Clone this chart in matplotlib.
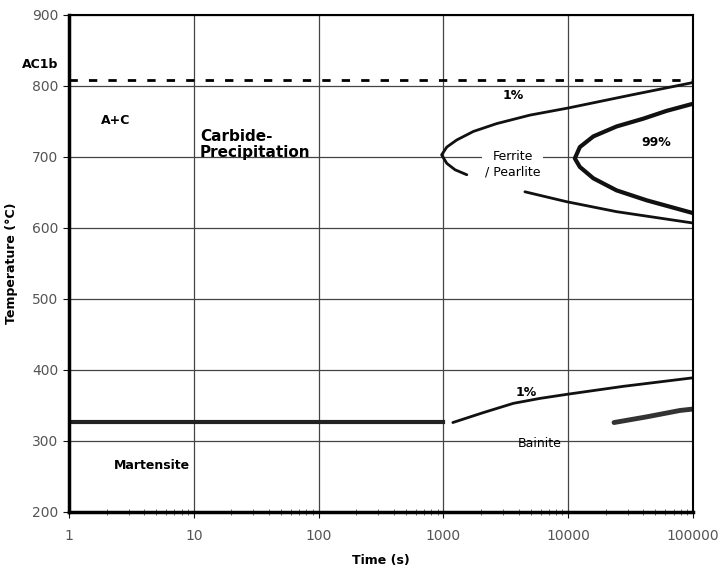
import matplotlib
matplotlib.use('Agg')
import matplotlib.pyplot as plt
import numpy as np

# AC1b temperature and martensite start
ac1b_temp = 808
ms_time = [1, 1000]
ms_temp = [327, 327]

# ferrite / pearlite 1% curve
fp1_time = [100000, 94600, 31300, 10000, 4940, 2670, 1740, 1280, 1065, 968, 1065, 1240, 1540]
fp1_temp = [805, 804, 787, 769, 759, 747, 736, 724, 714, 703, 691, 682, 675]

# ferrite / pearlite 99% curve
fp99_time = [100000, 61500, 40000, 24400, 15900, 12400, 11300, 12400, 15900, 24400, 42500, 100000]
fp99_temp = [775, 765, 754, 743, 729, 714, 698, 686, 670, 653, 639, 621]

# lower pearlite line
fpl_time = [4500, 9730, 24400, 100000]
fpl_temp = [651, 637, 623, 607]

# bainite 1% and second line
b1_time = [1190, 2090, 3630, 5940, 10000, 27700, 100000]
b1_temp = [326, 340, 353, 360, 366, 377, 389]
b2_time = [23300, 42500, 78700, 100000]
b2_temp = [326, 334, 343, 345]

fig = plt.figure(figsize=(7.2, 5.68), dpi=100)
ax = fig.add_axes([0.0958, 0.0986, 0.8667, 0.875])

ax.set_xscale('log')
ax.set_xlim(1, 100000)
ax.set_ylim(200, 900)
ax.set_yticks(np.arange(200, 901, 100))
ax.set_xticks([1, 10, 100, 1000, 10000, 100000])
ax.set_xticklabels(['1', '10', '100', '1000', '10000', '100000'])
ax.grid(True, which='major', color='#444444', linewidth=0.9)
ax.set_axisbelow(True)

ln = dict(solid_capstyle='round', solid_joinstyle='round')
ax.axhline(ac1b_temp, color='k', linestyle=(0, (3, 4)), linewidth=2)
ax.plot(ms_time, ms_temp, color='#222222', linewidth=3)
ax.plot(fp1_time, fp1_temp, color='#111111', linewidth=2, **ln)
ax.plot(fp99_time, fp99_temp, color='#111111', linewidth=3, **ln)
ax.plot(fpl_time, fpl_temp, color='#111111', linewidth=2, **ln)
ax.plot(b1_time, b1_temp, color='#111111', linewidth=2, **ln)
ax.plot(b2_time, b2_temp, color='#333333', linewidth=3.5, **ln)

for s in ['left', 'bottom']:
	ax.spines[s].set_linewidth(2.5)
for s in ['top', 'right']:
	ax.spines[s].set_linewidth(1.5)

ax.tick_params(axis='both', which='major', direction='out', length=4, colors='#111111',
	labelcolor='#555555', labelsize=10)
ax.tick_params(axis='x', which='minor', direction='inout', length=5, color='#555555')
ax.tick_params(axis='x', which='major', pad=8)

ax.set_xlabel('Time (s)', fontsize=9, fontweight='bold', labelpad=8)
ax.set_ylabel('Temperature (°C)', fontsize=9, fontweight='bold', labelpad=10)

fig.text(40 / 720, 1 - 65 / 568, 'AC1b', fontsize=9, fontweight='bold', ha='center', va='center')
ax.text(1.8, 752, 'A+C', fontsize=9, fontweight='bold', ha='left', va='center')
ax.text(11.2, 718, 'Carbide-\nPrecipitation', fontsize=11, fontweight='bold', ha='left',
	va='center', linespacing=1.1)
ax.text(3600, 786, '1%', fontsize=9, fontweight='bold', ha='center', va='center')
ax.text(3600, 690, 'Ferrite\n/ Pearlite', fontsize=9, ha='center', va='center', linespacing=1.3,
	bbox=dict(facecolor='white', edgecolor='none', pad=2))
ax.text(51000, 720, '99%', fontsize=9, fontweight='bold', ha='center', va='center')
ax.text(4600, 369, '1%', fontsize=9, fontweight='bold', ha='center', va='center')
ax.text(5900, 297, 'Bainite', fontsize=9, ha='center', va='center')
ax.text(2.3, 265, 'Martensite', fontsize=9, fontweight='bold', ha='left', va='center')

fig.savefig('out.png', dpi=100)
